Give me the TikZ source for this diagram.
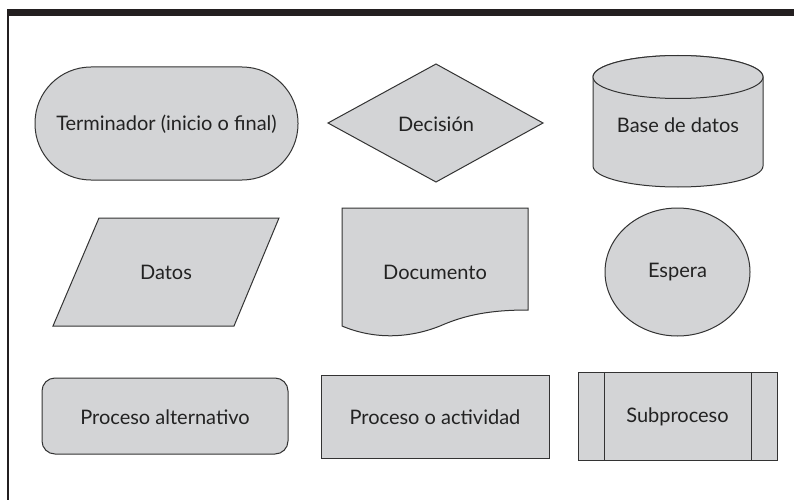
\documentclass[tikz,border=0pt]{standalone}
\usepackage{fontspec}
\setmainfont{Lato}
\usetikzlibrary{shapes.geometric}
\definecolor{shapefill}{HTML}{D3D4D6}
\definecolor{edge}{HTML}{333333}
\definecolor{ink}{HTML}{222222}
\definecolor{barcol}{HTML}{231F20}
\begin{document}
\begin{tikzpicture}[x=1pt,y=-1pt,
  shp/.style={draw=edge,fill=shapefill,line width=1pt},
  lbl/.style={text=ink,font=\fontsize{20}{22}\selectfont,inner sep=0pt}]
\useasboundingbox (0,0) rectangle (794,500);
\fill[white] (0,0) rectangle (794,500);
% frame
\fill[barcol] (7,9) rectangle (794,16);
\fill[barcol] (7,16) rectangle (8.5,500);
% row 1
\draw[shp,rounded corners=56pt] (35,67) rectangle (298,180);
\node[lbl] (term) at (166.5,124) {Terminador (inicio o final)};
\draw[shp] (328,123) -- (436,64) -- (543,123) -- (436,182) -- cycle;
\node[lbl] (dec) at (436,124) {Decisión};
\draw[shp] (593,77) arc[start angle=180,end angle=360,x radius=85,y radius=21.5]
  -- (763,166) arc[start angle=0,end angle=180,x radius=85,y radius=21] -- cycle;
\draw[shp] (678,77) ellipse[x radius=85,y radius=21.5];
\node[lbl] (db) at (678,125) {Base de datos};
% row 2
\draw[shp] (99,218) -- (279,218) -- (234,326) -- (53,326) -- cycle;
\node[lbl] (datos) at (166,272) {Datos};
\draw[shp] (342,208) -- (528,208) -- (528,310)
  .. controls (490,310) and (465,315) .. (440,326)
  .. controls (410,338) and (375,340) .. (342,326) -- cycle;
\node[lbl] (doc) at (435,272) {Documento};
\draw[shp] (677.5,272) ellipse[x radius=72.5,y radius=64];
\node[lbl] (esp) at (677.5,272) {Espera};
% row 3
\draw[shp,rounded corners=13pt] (42,378) rectangle (288,454);
\node[lbl] (palt) at (165,417) {Proceso alternativo};
\draw[shp] (321,375) rectangle (549,458);
\node[lbl] (proc) at (435,417) {Proceso o actividad};
\draw[shp] (578,372) rectangle (777,460);
\draw[draw=edge,line width=1pt] (604,372) -- (604,460) (751,372) -- (751,460);
\node[lbl] (sub) at (677.5,417) {Subproceso};
\end{tikzpicture}
\end{document}
